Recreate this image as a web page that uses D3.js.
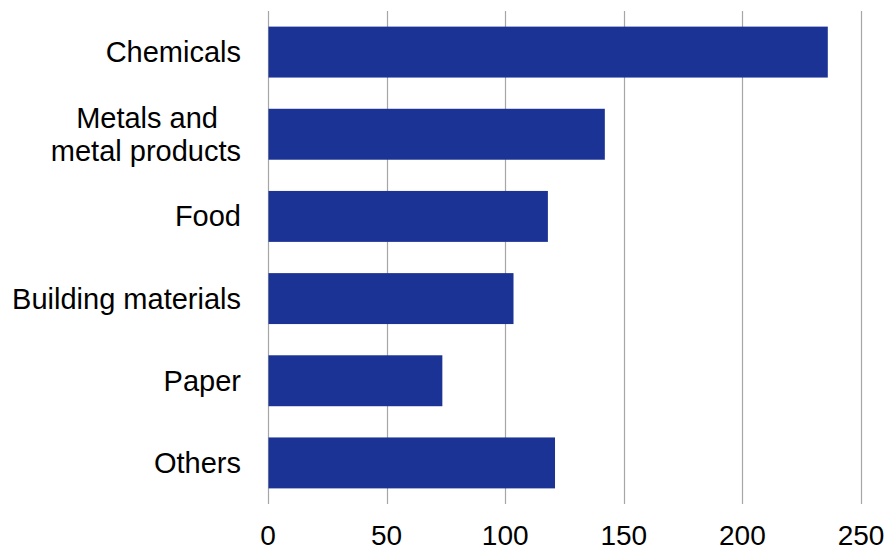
<!DOCTYPE html>
<html>
<head>
<meta charset="utf-8">
<script src="https://cdn.jsdelivr.net/npm/d3@7"></script>
<style>
  html, body { margin: 0; padding: 0; background: #ffffff; }
  svg { display: block; }
  text { font-family: "Liberation Sans", Arial, sans-serif; fill: #000000; }
</style>
</head>
<body>
<svg id="chart" width="887" height="552"></svg>
<script>
const categories = ["Chemicals", "Metals and\nmetal products", "Food", "Building materials", "Paper", "Others"];
const values = [236, 142, 118, 103.5, 73.5, 121];
const tickValues = [0, 50, 100, 150, 200, 250];

const W = 887, H = 552;
const margin = { top: 11, right: 26, bottom: 48, left: 268 };
const svg = d3.select("#chart");

const x = d3.scaleLinear().domain([0, 250]).range([margin.left, W - margin.right]);
const y = d3.scaleBand().domain(categories).range([margin.top, H - margin.bottom])
  .paddingInner(0.38).paddingOuter(0.19);

// gridlines
svg.append("g").selectAll("line").data(tickValues).join("line")
  .attr("x1", d => Math.round(x(d)) + 0.5).attr("x2", d => Math.round(x(d)) + 0.5)
  .attr("y1", margin.top).attr("y2", H - margin.bottom)
  .attr("stroke", "#a6a6a6").attr("stroke-width", 1.2);

// bars
svg.append("g").selectAll("rect").data(categories).join("rect")
  .attr("x", x(0) + 0.5)
  .attr("y", d => y(d))
  .attr("width", (d, i) => x(values[i]) - x(0) - 0.5)
  .attr("height", y.bandwidth())
  .attr("fill", "#1b3394");

// x tick labels
svg.append("g").selectAll("text").data(tickValues).join("text")
  .attr("x", d => x(d)).attr("y", 545)
  .attr("text-anchor", "middle")
  .attr("font-size", 28)
  .text(d => d);

// category labels
const lab = svg.append("g").selectAll("text").data(categories).join("text")
  .attr("font-size", 29)
  .attr("text-anchor", "end")
  .attr("y", d => y(d) + y.bandwidth() / 2);
lab.each(function(d) {
  const lines = d.split("\n");
  const t = d3.select(this);
  const lh = 33;
  lines.forEach((ln, i) => {
    t.append("tspan")
      .attr("x", lines.length > 1 && i === 0 ? 218 : 241)
      .attr("dy", i === 0 ? (-(lines.length - 1) * lh / 2 + 10) : lh)
      .text(ln);
  });
});
</script>
</body>
</html>
